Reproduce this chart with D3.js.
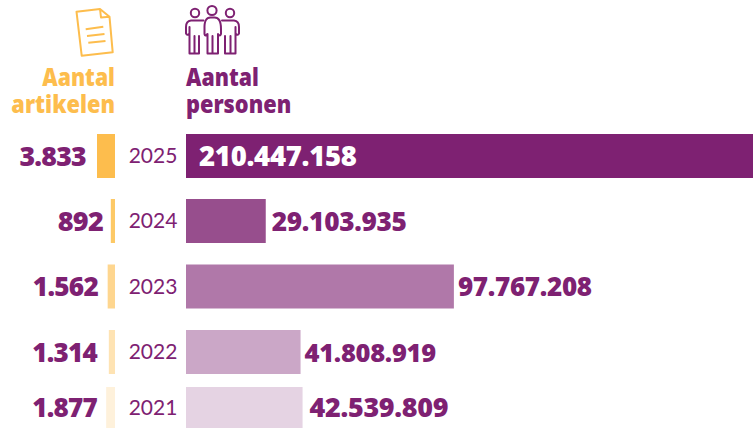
<!DOCTYPE html>
<html><head><meta charset="utf-8">
<script src="https://cdn.jsdelivr.net/npm/d3@7"></script>
<style>html,body{margin:0;padding:0;background:#fff;overflow:hidden}svg{display:block}text{font-family:"Open Sans",sans-serif}</style>
</head><body><svg id="c" width="753" height="428"></svg>
<script>
const years=["2025","2024","2023","2022","2021"];
const artikelen=[3833,892,1562,1314,1877];
const personen=[210447158,29103935,97767208,41808919,42539809];
const artikelLabels=["3.833","892","1.562","1.314","1.877"];
const personLabels=["210.447.158","29.103.935","97.767.208","41.808.919","42.539.809"];
const yellowFills=["#fdbd4d","#fdc966","#fed68f","#fee3b3","#fef1db"];
const purpleFills=["#7e2172","#974e8d","#b078a9","#cba7c7","#e5d3e3"];
const purple="#7e2172", yellow="#fdbd4d";
const W=753,H=428;
const svg=d3.select("#c");
const rowTop=d3.scaleOrdinal().domain(years).range([134,199,264.5,330,387]);
const rowH=d3.scaleOrdinal().domain(years).range([44,44,44,44,41]);
const xL=d3.scaleLinear().domain([0,3833]).range([0,18]);
const xR=d3.scaleLinear().domain([0,100000000]).range([186,186+274]);
const leftLabelEnd=d3.scaleOrdinal().domain(years).range([86,103,98,97,97]);
const leftSize=d3.scaleOrdinal().domain(years).range([26.7,27,26.2,26,26]);
const rightLabelGap=d3.scaleOrdinal().domain(years).range([0,6,4,4,7]);
const rightSize=d3.scaleOrdinal().domain(years).range([27.5,26.2,26,25.5,26.9]);
const data=years.map((y,i)=>({y,a:artikelen[i],p:personen[i],al:artikelLabels[i],pl:personLabels[i],yc:yellowFills[i],pc:purpleFills[i]}));
const rows=svg.selectAll("g.row").data(data).join("g").attr("class","row");
rows.append("rect").attr("x",d=>115-xL(d.a)).attr("y",d=>rowTop(d.y)).attr("width",d=>xL(d.a)).attr("height",d=>rowH(d.y)).attr("fill",d=>d.yc);
rows.append("rect").attr("x",xR(0)).attr("y",d=>rowTop(d.y)).attr("width",d=>Math.min(xR(d.p),W)-xR(0)).attr("height",d=>rowH(d.y)).attr("fill",d=>d.pc);
const cy=d=>rowTop(d.y)+rowH(d.y)/2+9.5;
rows.append("text").text(d=>d.al).attr("x",d=>leftLabelEnd(d.y)).attr("y",cy).attr("text-anchor","end").attr("font-size",d=>leftSize(d.y)).attr("font-weight",800).attr("fill",purple).attr("letter-spacing",-0.75);
rows.append("text").text(d=>d.y).attr("x",153).attr("y",d=>rowTop(d.y)+rowH(d.y)/2+7).attr("text-anchor","middle").attr("font-size",21).attr("fill",purple).style("font-family","Lato");
rows.append("text").text(d=>d.pl).attr("x",(d,i)=>i===0?199:xR(d.p)+rightLabelGap(d.y)).attr("y",cy).attr("font-size",d=>rightSize(d.y)).attr("font-weight",800).attr("fill",(d,i)=>i===0?"#fff":purple).attr("letter-spacing",-0.3);
function head(txt,x,y,anchor,col,sx){svg.append("text").text(txt).attr("transform",`translate(${x},${y}) scale(${sx},1)`).attr("text-anchor",anchor).attr("font-size",25).attr("font-weight",800).attr("fill",col);}
head("Aantal",115,86,"end",yellow,.85);
head("artikelen",115,113,"end",yellow,.87);
head("Aantal",186,86,"start",purple,.85);
head("personen",186,113,"start",purple,.87);
// document icon
const doc=svg.append("g").attr("fill","none").attr("stroke",yellow).attr("stroke-width",2).attr("stroke-linejoin","round");
doc.append("path").attr("d","M76.5 11.7 L100 9 L109.5 16.7 L112.7 52.3 L81.7 55.7 Z M100 9 L101 17.5 L109.5 16.7");
doc.append("path").attr("d","M85.7 29.3 L103.3 26.7 M87 36 L104.5 34 M88.3 42.7 L105.5 41");
// people icon
const ppl=svg.append("g").attr("fill","none").attr("stroke",purple).attr("stroke-width",2).attr("stroke-linejoin","round").attr("stroke-linecap","round");
[[195,13,4.2],[212,10.5,4.6],[230,13,4.2]].forEach(c=>ppl.append("circle").attr("cx",c[0]).attr("cy",c[1]).attr("r",c[2]));
ppl.append("path").attr("d","M203.5 20.5 H191 Q186 21 186 27 V33.5 Q187 36 189.5 33.5 V27 M189.5 33.5 V53.5 H199 V36 M194.5 53.5 V36");
ppl.append("path").attr("d","M204.5 29 Q204 17 211 17.5 H214 Q221 17 221 29 V34 Q220 37 218 34 V53.5 H207.5 V34 Q205 37 204.5 34 Z M212.5 53.5 V36");
ppl.append("path").attr("d","M222 20.5 H234 Q239 21 239 27 V33.5 Q238 36 235.5 33.5 V27 M235.5 33.5 V53.5 H225 V36 M230.5 53.5 V36");
</script></body></html>
